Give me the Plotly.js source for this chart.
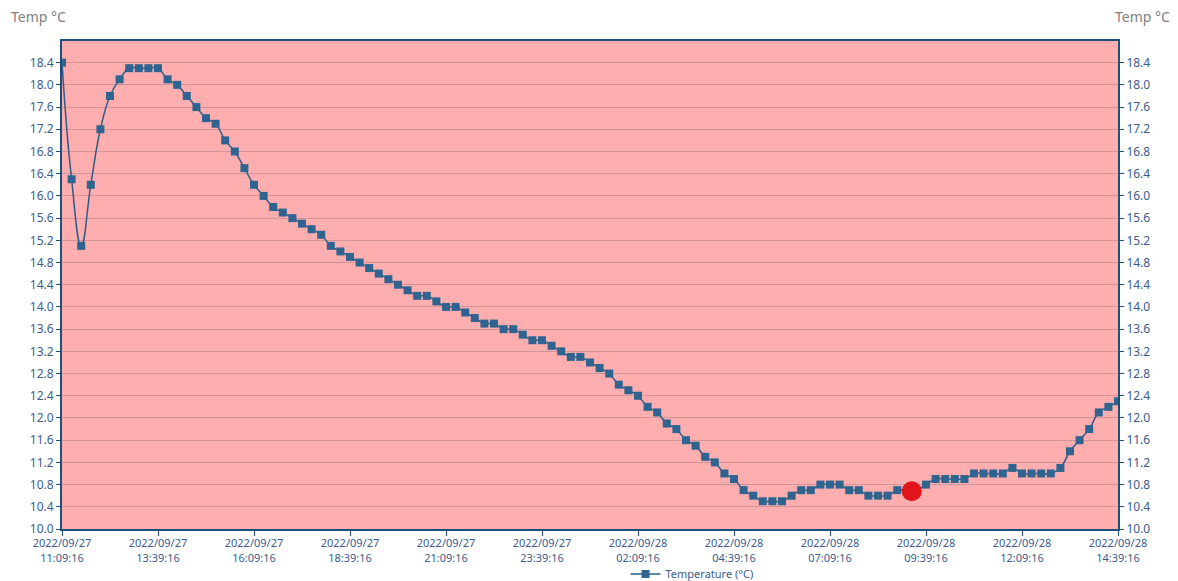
<!DOCTYPE html>
<html>
<head>
<meta charset="utf-8">
<script src="https://cdn.plot.ly/plotly-3.0.1.min.js"></script>
<style>html,body{margin:0;padding:0;background:#fff;}#chart{width:1178px;height:581px;}</style>
</head>
<body>
<div id="chart"></div>
<script>
// Logger samples: one reading every 15 minutes from the start time
const startTime = '2022-09-27T11:09:16';
const sampleMinutes = 15;
const temperature = [
  18.4, 16.3, 15.1, 16.2, 17.2, 17.8, 18.1, 18.3, 18.3, 18.3,
  18.3, 18.1, 18.0, 17.8, 17.6, 17.4, 17.3, 17.0, 16.8, 16.5,
  16.2, 16.0, 15.8, 15.7, 15.6, 15.5, 15.4, 15.3, 15.1, 15.0,
  14.9, 14.8, 14.7, 14.6, 14.5, 14.4, 14.3, 14.2, 14.2, 14.1,
  14.0, 14.0, 13.9, 13.8, 13.7, 13.7, 13.6, 13.6, 13.5, 13.4,
  13.4, 13.3, 13.2, 13.1, 13.1, 13.0, 12.9, 12.8, 12.6, 12.5,
  12.4, 12.2, 12.1, 11.9, 11.8, 11.6, 11.5, 11.3, 11.2, 11.0,
  10.9, 10.7, 10.6, 10.5, 10.5, 10.5, 10.6, 10.7, 10.7, 10.8,
  10.8, 10.8, 10.7, 10.7, 10.6, 10.6, 10.6, 10.7, 10.7, 10.7,
  10.8, 10.9, 10.9, 10.9, 10.9, 11.0, 11.0, 11.0, 11.0, 11.1,
  11.0, 11.0, 11.0, 11.0, 11.1, 11.4, 11.6, 11.8, 12.1, 12.2,
  12.3
];
const highlightTime = ['2022-09-28T09:17:00'];
const highlightValue = [10.68];

const tickVals = [
  '2022-09-27T11:09:16', '2022-09-27T13:39:16', '2022-09-27T16:09:16',
  '2022-09-27T18:39:16', '2022-09-27T21:09:16', '2022-09-27T23:39:16',
  '2022-09-28T02:09:16', '2022-09-28T04:39:16', '2022-09-28T07:09:16',
  '2022-09-28T09:39:16', '2022-09-28T12:09:16', '2022-09-28T14:39:16'
];
const tickText = [
  '2022/09/27<br>11:09:16', '2022/09/27<br>13:39:16', '2022/09/27<br>16:09:16',
  '2022/09/27<br>18:39:16', '2022/09/27<br>21:09:16', '2022/09/27<br>23:39:16',
  '2022/09/28<br>02:09:16', '2022/09/28<br>04:39:16', '2022/09/28<br>07:09:16',
  '2022/09/28<br>09:39:16', '2022/09/28<br>12:09:16', '2022/09/28<br>14:39:16'
];
const seriesName = 'Temperature (°C)';
const axisTitle = 'Temp °C';

function pad(n){return String(n).padStart(2,'0');}
const t0 = new Date(startTime);
const times = temperature.map((_, i) => {
  const d = new Date(t0.getTime() + i * sampleMinutes * 60000);
  return d.getFullYear() + '-' + pad(d.getMonth()+1) + '-' + pad(d.getDate()) + ' ' +
         pad(d.getHours()) + ':' + pad(d.getMinutes()) + ':' + pad(d.getSeconds());
});

const axisColor = '#1f4e79';
const tickFont = {family: 'Noto Sans, sans-serif', size: 12, color: '#3b5b8f'};
const yCommon = {
  range: [10, 18.79], tick0: 10, dtick: 0.4, tickformat: '.1f',
  ticks: 'outside', ticklen: 4, tickcolor: axisColor, tickwidth: 1,
  showline: true, linecolor: axisColor, linewidth: 2,
  tickfont: tickFont, zeroline: false, fixedrange: true, automargin: false
};

const data = [
  {
    x: times, y: temperature, type: 'scatter', mode: 'lines+markers',
    name: seriesName,
    line: {color: '#2d5d86', width: 1.5, shape: 'spline', smoothing: 1.3},
    marker: {symbol: 'square', size: 8, color: '#2f6490'},
    showlegend: true
  },
  {
    x: highlightTime, y: highlightValue, type: 'scatter', mode: 'markers',
    yaxis: 'y2',
    marker: {symbol: 'circle', size: 20, color: '#e3131d'},
    showlegend: false, hoverinfo: 'skip'
  }
];

const layout = {
  width: 1178, height: 581,
  margin: {l: 62, r: 60, t: 41, b: 52, autoexpand: false},
  paper_bgcolor: '#ffffff',
  plot_bgcolor: '#ffaeb0',
  showlegend: true,
  legend: {
    orientation: 'h', xref: 'container', yref: 'container',
    x: 0.531, xanchor: 'left', y: 0.012, yanchor: 'middle',
    font: {family: 'Noto Sans, sans-serif', size: 11, color: '#3b5b8f'},
    bgcolor: 'rgba(0,0,0,0)'
  },
  xaxis: {
    type: 'date',
    range: [tickVals[0], tickVals[tickVals.length-1]],
    tickmode: 'array', tickvals: tickVals, ticktext: tickText,
    ticks: 'outside', ticklen: 5, tickcolor: axisColor,
    showline: true, linecolor: axisColor, linewidth: 2, mirror: true,
    showgrid: false, zeroline: false, automargin: false,
    ticklabelstandoff: -2,
    tickfont: {family: 'Noto Sans, sans-serif', size: 11, color: '#3b5b8f'},
    tickangle: 0, fixedrange: true
  },
  yaxis: Object.assign({}, yCommon, {
    side: 'left', showgrid: true, gridcolor: '#d2969a', gridwidth: 1
  }),
  yaxis2: Object.assign({}, yCommon, {
    side: 'right', overlaying: 'y', showgrid: false
  }),
  annotations: [
    {text: axisTitle, xref: 'paper', yref: 'paper', x: -0.05, y: 1.051,
     xanchor: 'left', yanchor: 'middle', showarrow: false,
     font: {family: 'Noto Sans, sans-serif', size: 14, color: '#7f7f7f'}},
    {text: axisTitle, xref: 'paper', yref: 'paper', x: 1.051, y: 1.051,
     xanchor: 'right', yanchor: 'middle', showarrow: false,
     font: {family: 'Noto Sans, sans-serif', size: 14, color: '#7f7f7f'}}
  ]
};

Plotly.newPlot('chart', data, layout, {displayModeBar: false, staticPlot: true});
</script>
</body>
</html>
